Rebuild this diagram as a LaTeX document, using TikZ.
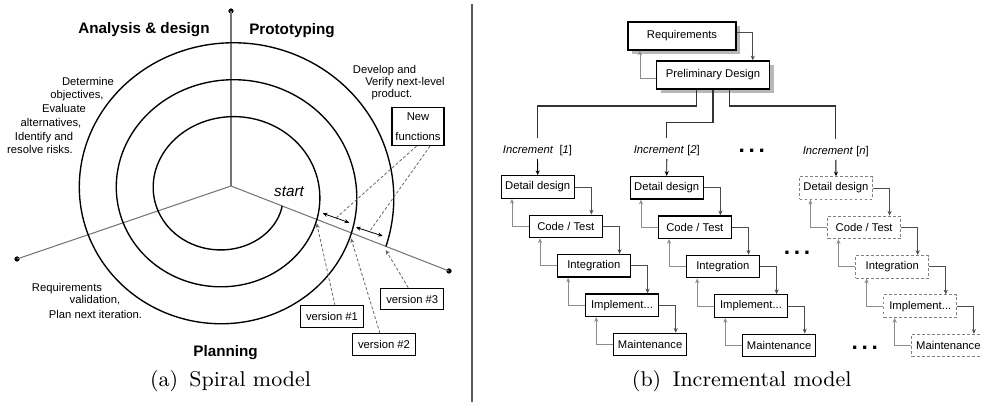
\documentclass[tikz,border=0pt]{standalone}
\usepackage{fontspec}
\newfontfamily\sansf{Liberation Sans}
\usetikzlibrary{arrows.meta,calc,shadows}

\begin{document}
\begin{tikzpicture}[x=0.44pt,y=-0.44pt,
  >={Stealth[length=2.1pt,width=1.8pt]},
  lbl/.style={font=\sansf\fontsize{4.95}{6}\selectfont, inner sep=0pt, anchor=base},
  heading/.style={font=\sansf\bfseries\fontsize{6.7}{8}\selectfont, inner sep=0pt, anchor=base},
  axisline/.style={draw=black!55, line width=0.45pt},
  enddot/.style={circle, fill=black, inner sep=0pt, minimum size=2.3pt},
  spiralline/.style={draw=black, line width=0.6pt},
  tagbox/.style={draw=black, line width=0.5pt, fill=white, font=\sansf\fontsize{4.95}{6}\selectfont,
    inner sep=0pt, minimum width=27.7pt, minimum height=9.5pt},
  pointer/.style={draw=black!60, line width=0.35pt, dash pattern=on 1.3pt off 0.9pt, ->},
  leader/.style={draw=black!60, line width=0.35pt, dash pattern=on 1.3pt off 0.9pt},
  spanarrow/.style={draw=black, line width=0.35pt, <->},
  phase/.style={draw=black, line width=0.55pt, fill=white, font=\sansf\fontsize{4.95}{6}\selectfont,
    inner sep=0pt, minimum width=32.1pt, minimum height=9.9pt},
  ghost/.style={phase, draw=black!50, line width=0.45pt, dash pattern=on 1.3pt off 0.9pt},
  topbox/.style={phase, minimum height=12.3pt,
    drop shadow={shadow xshift=1.8pt, shadow yshift=-1.8pt, fill=black!28, opacity=1}},
  fwd/.style={draw=black!70, line width=0.4pt, ->},
  bwd/.style={draw=black!45, line width=0.4pt, ->},
  branch/.style={draw=black!80, line width=0.45pt},
  inclabel/.style={font=\sansf\fontsize{4.95}{6}\selectfont, inner xsep=0pt, inner ysep=0.9pt, anchor=base},
  ellip/.style={font=\sansf\bfseries\fontsize{10}{12}\selectfont, inner sep=0pt},
  captext/.style={font=\fontsize{9.4}{11}\selectfont, anchor=base, inner sep=0pt}
]
\useasboundingbox (0,0) rectangle (981,407);

% ---------------- Spiral model ----------------
\coordinate (O) at (231,186);
\node[enddot] (Etop) at (231,11) {};
\node[enddot] (Eleft) at (17,259) {};
\node[enddot] (Eright) at (449,271) {};
\draw[axisline] (O) -- (Etop.center);
\draw[axisline] (O) -- (Eleft.center);
\draw[axisline] (O) -- (Eright.center);

% spiral growing by one ring (37 units) per turn
\draw[spiralline] plot[domain=15.7:1099.6, samples=500, smooth, variable=\t]
  ({227.3+(57+0.10278*(\t-15.7))*cos(\t)}, {192.5+(49.5+0.10278*(\t-15.7))*sin(\t)});

\node[heading] (hA) at (144,33.2) {Analysis \& design};
\node[heading] (hP) at (292,34.5) {Prototyping};
\node[heading] (hL) at (225.6,357) {Planning};
\node[font=\sansf\itshape\fontsize{6.7}{8}\selectfont, inner sep=0pt, anchor=base] (st) at (289,196.5) {start};

\node[lbl] (q1) at (88,86) {Determine};
\node[lbl] (q2) at (77,99) {objectives,};
\node[lbl] (q3) at (64,113) {Evaluate};
\node[lbl] (q4) at (51,127) {alternatives,};
\node[lbl] (q5) at (44,141) {Identify and};
\node[lbl] (q6) at (40,154) {resolve risks.};

\node[lbl] (w1) at (384.5,74) {Develop and};
\node[lbl] (w2) at (405,85.7) {Verify next-level};
\node[lbl] (w3) at (392,97.3) {product.};

\node[lbl] (z1) at (67,291.3) {Requirements};
\node[lbl] (z2) at (95,304) {validation,};
\node[lbl] (z3) at (95.5,318.3) {Plan next iteration.};

\coordinate (a1) at (322.7,213.3);
\coordinate (b1) at (349.3,222.7);
\coordinate (a2) at (356,227.3);
\coordinate (b2) at (382.7,236);
\draw[spanarrow] (a1) -- (b1);
\draw[spanarrow] (a2) -- (b2);

\node[tagbox, minimum width=22.9pt, minimum height=16.7pt, align=center,
  font=\sansf\fontsize{4.95}{8.7}\selectfont] (nf) at (418,126.5) {New\\functions};
\node[tagbox] (v1) at (332,316.7) {version \#1};
\node[tagbox] (v2) at (384,344.5) {version \#2};
\node[tagbox] (v3) at (412.3,299) {version \#3};

\coordinate (t1) at (316.7,223.3);
\coordinate (t2) at (351,238.3);
\coordinate (t3) at (385.7,250);
\draw[pointer] ([xshift=1.3pt]v1.north) -- (t1);
\draw[pointer] ([xshift=-1.8pt]v2.north) -- (t2);
\draw[pointer] ([xshift=-1.8pt]v3.north) -- (t3);
\draw[leader] ([xshift=-0.6pt]nf.south) -- ($(a1)!0.5!(b1)$);
\draw[leader] ([xshift=5.3pt]nf.south) -- ($(a2)!0.5!(b2)$);

\node[captext] (capA) at (230.5,386.7) {(a)\hspace{5pt}Spiral model};

% separator
\coordinate (s1) at (472,4);
\coordinate (s2) at (472,402);
\draw[draw=black!65, line width=0.7pt] (s1) -- (s2);

% ---------------- Incremental model ----------------
\node[topbox, minimum width=47.5pt] (R) at (682,36) {Requirements};
\node[topbox, minimum width=49.7pt] (P) at (713,75) {Preliminary Design};
\draw[fwd] (R.east |- 0,32.3) -| ([xshift=17.5pt]P.north);
\draw[bwd] (P.west |- 0,78.3) -| ([xshift=-18.5pt]R.south);

\node[inclabel] (I1) at (537.5,154) {\textit{Increment}\ \ [\textit{1}]};
\node[inclabel] (I2) at (666.8,154) {\textit{Increment}\ [\textit{2}]};
\node[inclabel] (In) at (835.8,155) {\textit{Increment}\ [\textit{n}]};

\draw[branch, shorten >=2.5pt] ([xshift=-7.3pt]P.south) |- (I1.north |- 0,106) -- (I1.north);
\draw[branch, shorten >=2.5pt] (P.south) |- (I2.north |- 0,122.7) -- (I2.north);
\draw[branch, shorten >=2.5pt] ([xshift=7.3pt]P.south) |- (In.north |- 0,106) -- (In.north);

% increment 1
\node[phase] (D1) at (537.7,187) {Detail design};
\node[phase] (C1) at (565.8,226.4) {Code / Test};
\node[phase] (G1) at (593.9,265.8) {Integration};
\node[phase] (M1) at (622,305.2) {Implement...};
\node[phase] (N1) at (650.1,344.6) {Maintenance};
% increment 2
\node[phase] (D2) at (666.7,187.8) {Detail design};
\node[phase] (C2) at (694.8,227.2) {Code / Test};
\node[phase] (G2) at (722.9,266.6) {Integration};
\node[phase] (M2) at (751,306) {Implement...};
\node[phase] (N2) at (779.1,345.4) {Maintenance};
% increment n
\node[ghost] (Dn) at (836,188) {Detail design};
\node[ghost] (Cn) at (864.1,227.4) {Code / Test};
\node[ghost] (Gn) at (892.2,266.8) {Integration};
\node[ghost] (Mn) at (920.3,306.2) {Implement...};
\node[ghost] (Nn) at (948.4,345.6) {Maintenance};

\draw[->, draw=black, line width=0.4pt] (I1.south) -- (D1.north);
\draw[->, draw=black, line width=0.4pt] (I2.south) -- (D2.north);
\draw[->, draw=black, line width=0.4pt] (In.south) -- (Dn.north);

\foreach \a/\b in {D1/C1,C1/G1,G1/M1,M1/N1,D2/C2,C2/G2,G2/M2,M2/N2,Dn/Cn,Cn/Gn,Gn/Mn,Mn/Nn}{
  \draw[fwd] (\a.east) -| ([xshift=-5.06pt]\b.north east);
  \draw[bwd] (\b.west) -| ([xshift=5pt]\a.south west);
}

\node[ellip] (e1) at (751.7,151) {.\hspace{1.6pt}.\hspace{1.6pt}.};
\node[ellip] (e2) at (797,253.3) {.\hspace{1.6pt}.\hspace{1.6pt}.};
\node[ellip] (e3) at (864.7,348.3) {.\hspace{1.6pt}.\hspace{1.6pt}.};

\node[captext] (capB) at (741.7,386.7) {(b)\hspace{5pt}Incremental model};
\end{tikzpicture}
\end{document}
